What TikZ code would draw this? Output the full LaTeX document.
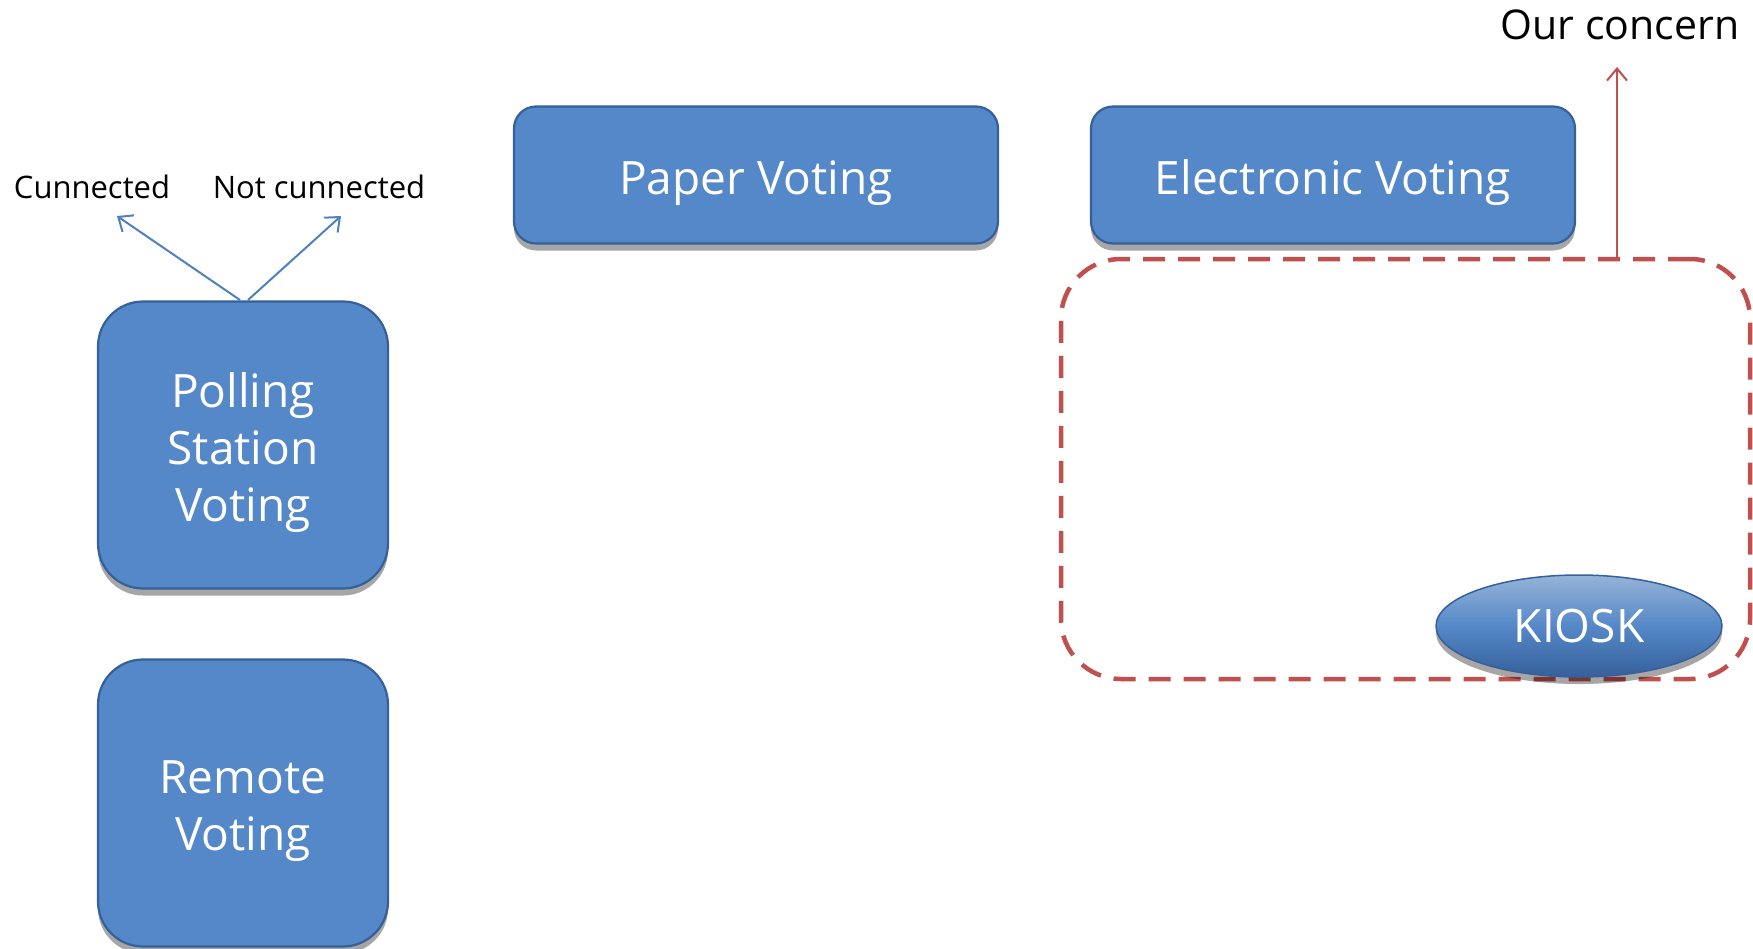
\documentclass[tikz,border=0pt]{standalone}
\usepackage{fontspec}
\setmainfont{Open Sans}
\usetikzlibrary{shadows,arrows.meta,shapes.geometric}
\definecolor{boxblue}{HTML}{5588C8}
\definecolor{boxedge}{HTML}{35609A}
\definecolor{arrblue}{HTML}{4F81BD}
\definecolor{concernred}{HTML}{C0504D}
\tikzset{
  x=1pt, y=-1pt,
  boxtext/.style={text=white, align=center, inner sep=0pt, yshift=-8pt,
    font=\fontsize{46}{57}\selectfont},
  bluebox/.style={draw=boxedge, line width=2.2pt, fill=boxblue, inner sep=0pt,
    drop shadow={shadow xshift=0pt, shadow yshift=-7pt, opacity=0.35, fill=black},
    label={[boxtext]center:#1}},
  widebox/.style={bluebox=#1, rounded corners=22pt, minimum width=484pt, minimum height=137pt},
  squarebox/.style={bluebox=#1, rounded corners=45pt, minimum width=290pt, minimum height=287pt},
  smalllabel/.style={font=\fontsize{31}{36}\selectfont, inner sep=0pt},
  biglabel/.style={font=\fontsize{41}{48}\selectfont, inner sep=0pt},
  bluearrow/.style={draw=arrblue, line width=2pt, -{Straight Barb[length=12pt, width=20pt, line width=2pt]}},
  redarrow/.style={draw=concernred, line width=2pt, -{Straight Barb[length=12pt, width=20pt, line width=2pt]}},
  regionbox/.style={draw=concernred, line width=4.5pt, dash pattern=on 22pt off 13pt,
    rounded corners=60pt, minimum width=689pt, minimum height=420pt, inner sep=0pt},
  kiosk/.style={ellipse, draw=boxedge, line width=1.5pt, top color=arrblue!60!white, bottom color=boxedge,
    middle color=boxblue, text=white, minimum width=286pt, minimum height=102pt, inner sep=0pt,
    font=\fontsize{46}{57}\selectfont,
    drop shadow={shadow xshift=0pt, shadow yshift=-7pt, opacity=0.35, fill=black}}
}
\begin{document}
\begin{tikzpicture}
\useasboundingbox (0,0) rectangle (1753,948);
\fill[white] (0,0) rectangle (1753,948);

\node[widebox={Paper Voting}] (paper) at (756,175) {};
\node[widebox={Electronic Voting}] (elec) at (1333,175) {};
\node[squarebox={Polling\\Station\\Voting}] (poll) at (243,445) {};
\node[squarebox={Remote\\Voting}] (remote) at (243,803) {};

\node[regionbox] (region) at (1405.5,469) {};
\node[kiosk] (kiosk) at (1579,626) {KIOSK};

\node[smalllabel] (cun) at (92,187) {Cunnected};
\node[smalllabel] (notcun) at (319,187) {Not cunnected};
\node[biglabel] (concern) at (1620,25) {Our concern};

\coordinate (cunTip) at (117,216);
\coordinate (notTip) at (341,216);
\coordinate (concernTip) at (1617,67);
\coordinate (pollL) at (240,300);
\coordinate (pollR) at (248,300);

\draw[bluearrow] (pollL) -- (cunTip);
\draw[bluearrow] (pollR) -- (notTip);
\draw[redarrow] (region.north -| concernTip) -- (concernTip);
\end{tikzpicture}
\end{document}
